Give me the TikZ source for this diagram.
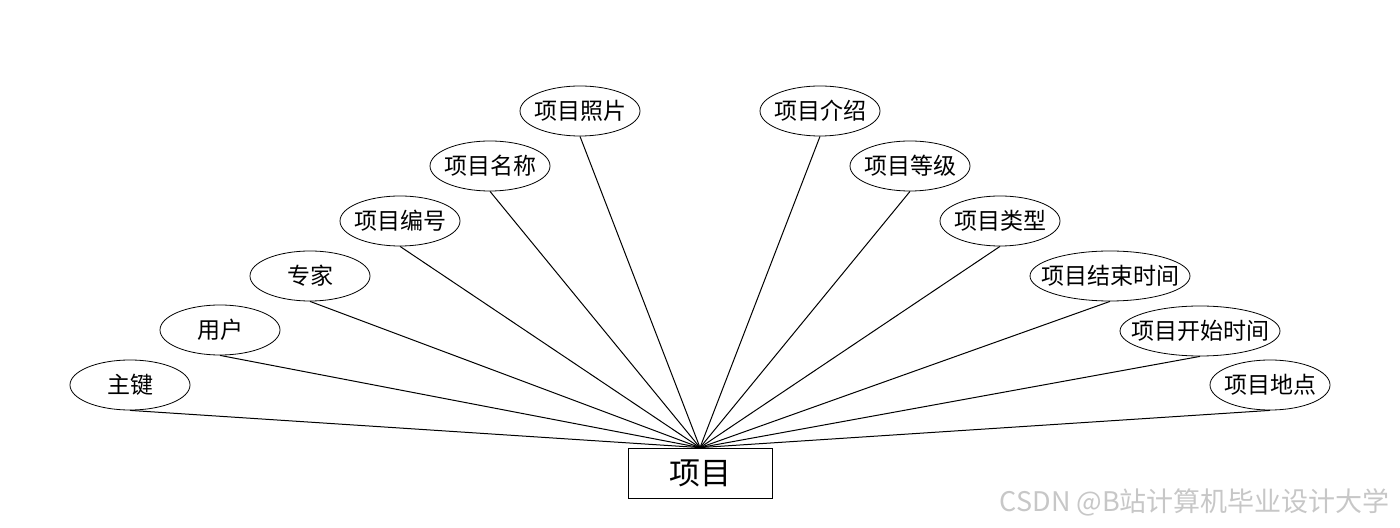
\documentclass[tikz,border=0pt]{standalone}
\usepackage{fontspec}
\setmainfont{Noto Sans CJK SC}
\usetikzlibrary{shapes.geometric}

\begin{document}
\begin{tikzpicture}[
  x=0.5pt, y=-0.5pt,
  attr/.style={draw, ellipse, inner sep=0pt, minimum width=60pt, minimum height=25pt,
    label={[font=\fontsize{11.5}{13}\selectfont]center:#1}},
  wide/.style={attr=#1, minimum width=80pt},
  entity/.style={draw, inner sep=0pt, minimum width=72pt, minimum height=25pt, font=\fontsize{15.5}{18}\selectfont},
  link/.style={line width=0.5pt}
]
  \useasboundingbox (0,0) rectangle (1400,528);
  \node[entity] (xm) at (700,473) {项目};
  % attributes, left side
  \node[attr=主键] (zj) at (130,385) {};
  \node[attr=用户] (yh) at (220,330) {};
  \node[attr=专家] (zjia) at (310,276) {};
  \node[attr=项目编号] (bh) at (400,221) {};
  \node[attr=项目名称] (mc) at (490,166) {};
  \node[attr=项目照片] (zp) at (580,111) {};
  % attributes, right side
  \node[attr=项目介绍] (js) at (820,111) {};
  \node[attr=项目等级] (dj) at (910,166) {};
  \node[attr=项目类型] (lx) at (1000,221) {};
  \node[wide=项目结束时间] (jssj) at (1110,276) {};
  \node[wide=项目开始时间] (kssj) at (1200,331) {};
  \node[attr=项目地点] (dd) at (1270,385) {};
  \foreach \a in {zj,yh,zjia,bh,mc,zp,js,dj,lx,jssj,kssj,dd}
    \draw[link] (\a.south) -- (xm.north);
  \node[anchor=east, text=black!22, font=\fontsize{13.5}{15}\selectfont] (wm) at (1397,502) {CSDN @B站计算机毕业设计大学};
\end{tikzpicture}
\end{document}
